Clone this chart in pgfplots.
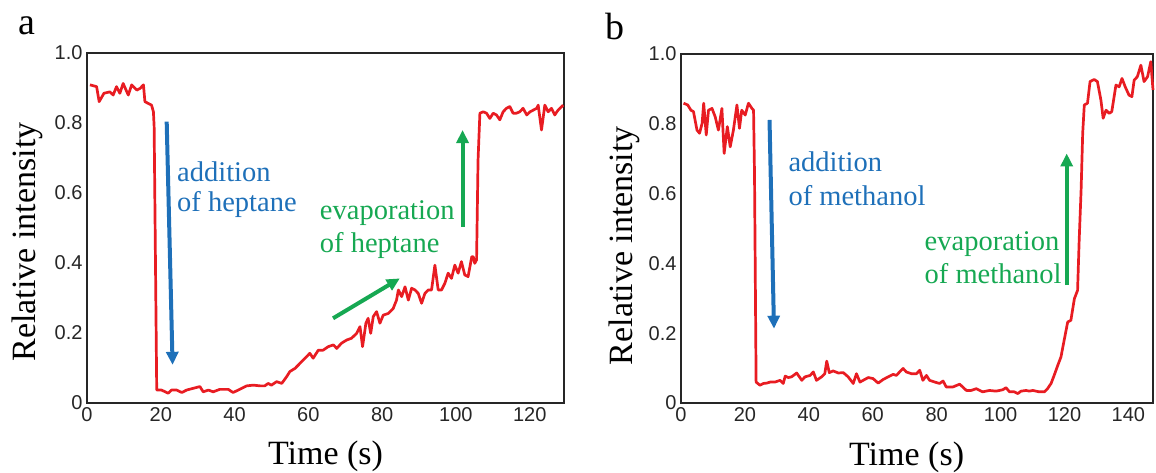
\documentclass[border=0pt]{standalone}
\usepackage{pgfplots}
\pgfplotsset{compat=1.18}
\usepackage{pgfplotstable}
\usetikzlibrary{arrows.meta}
\usepackage{fontspec}
\setmainfont{Liberation Serif}
\newfontfamily\arialfont{Liberation Sans}
\newcommand\tl{\arialfont\fontsize{20}{22}\selectfont}
\definecolor{cRed}{RGB}{232,28,34}
\definecolor{cBlue}{RGB}{30,112,185}
\definecolor{cGreen}{RGB}{22,168,82}

\pgfplotstableread{
t v
0.8 0.909
2.6 0.904
3.3 0.861
4.6 0.885
6.2 0.889
7.1 0.880
8.0 0.904
8.9 0.885
9.8 0.913
10.8 0.889
11.2 0.880
12.1 0.909
13.5 0.894
14.4 0.899
15.3 0.909
15.7 0.861
16.6 0.856
17.5 0.851
18.0 0.832
18.2 0.790
18.9 0.037
20.2 0.037
22.0 0.028
22.9 0.037
24.3 0.037
25.7 0.030
27.0 0.037
28.8 0.042
30.6 0.047
31.5 0.032
32.9 0.037
34.2 0.032
36.0 0.039
38.3 0.039
39.6 0.030
41.0 0.037
43.3 0.049
45.1 0.051
46.9 0.049
48.2 0.049
49.1 0.056
50.0 0.051
51.4 0.061
52.8 0.056
54.1 0.075
55.0 0.090
56.4 0.099
57.7 0.113
59.1 0.128
60.4 0.142
61.3 0.128
62.7 0.151
64.0 0.151
65.4 0.161
66.8 0.166
67.7 0.156
69.0 0.171
70.4 0.180
71.7 0.185
73.1 0.199
74.0 0.218
74.7 0.161
75.6 0.228
76.2 0.242
76.9 0.199
77.6 0.247
78.5 0.261
79.4 0.228
80.3 0.251
81.7 0.256
83.0 0.270
83.9 0.294
84.4 0.323
85.3 0.304
86.2 0.332
87.1 0.294
88.0 0.328
88.9 0.323
89.8 0.313
90.7 0.285
91.6 0.313
92.5 0.323
93.4 0.323
94.3 0.394
95.2 0.323
96.1 0.323
97.0 0.342
97.9 0.371
98.8 0.356
99.7 0.394
100.6 0.371
101.5 0.404
102.4 0.366
103.3 0.361
104.3 0.418
104.7 0.418
105.1 0.399
105.6 0.409
106.0 0.694
106.5 0.828
107.4 0.832
108.3 0.828
109.2 0.813
110.1 0.828
111.0 0.823
111.9 0.809
112.8 0.832
113.7 0.842
114.6 0.847
115.5 0.828
116.4 0.828
117.3 0.832
118.2 0.842
119.2 0.823
120.1 0.832
121.0 0.837
121.9 0.842
122.3 0.851
123.2 0.780
124.1 0.851
125.0 0.832
125.9 0.842
126.8 0.823
127.7 0.837
129.1 0.851
}\dataA

\pgfplotstableread{
t v
0.8 0.859
2.1 0.854
3.1 0.839
3.9 0.835
5.0 0.782
5.8 0.773
6.6 0.801
7.1 0.859
7.9 0.768
8.6 0.839
9.7 0.844
10.7 0.820
11.7 0.782
12.8 0.844
13.5 0.715
14.5 0.792
15.4 0.734
16.4 0.782
17.5 0.854
18.3 0.787
19.0 0.839
20.1 0.825
21.1 0.859
22.2 0.844
22.7 0.839
23.0 0.658
23.5 0.060
24.7 0.051
25.8 0.056
26.8 0.057
27.9 0.060
29.4 0.060
31.0 0.065
32.0 0.056
32.6 0.077
33.6 0.073
34.6 0.075
36.2 0.086
37.8 0.065
38.8 0.075
40.4 0.079
41.4 0.089
42.4 0.065
44.0 0.075
45.0 0.084
45.6 0.120
46.4 0.087
47.6 0.092
49.2 0.086
50.8 0.087
52.3 0.075
53.9 0.056
54.9 0.084
56.0 0.060
57.0 0.065
58.6 0.073
60.1 0.070
61.7 0.057
63.2 0.067
64.8 0.075
66.4 0.082
67.4 0.079
68.4 0.089
69.5 0.099
70.5 0.089
72.1 0.084
73.7 0.084
74.7 0.094
75.7 0.065
76.8 0.079
77.8 0.065
79.4 0.060
80.9 0.056
82.0 0.063
83.0 0.046
85.1 0.046
87.2 0.054
89.3 0.036
90.8 0.036
92.4 0.041
94.4 0.032
96.5 0.036
98.6 0.034
100.7 0.038
101.7 0.044
102.8 0.032
104.3 0.032
105.4 0.027
106.4 0.034
108.0 0.036
109.0 0.034
110.1 0.036
112.1 0.032
113.7 0.032
114.7 0.041
115.8 0.056
116.8 0.080
117.9 0.108
118.9 0.132
119.9 0.180
121.0 0.232
122.0 0.237
123.1 0.299
124.1 0.323
124.6 0.467
125.2 0.610
125.7 0.773
126.2 0.854
127.2 0.859
128.0 0.921
129.3 0.927
130.3 0.921
131.4 0.868
132.1 0.816
133.0 0.839
134.0 0.830
134.8 0.835
136.1 0.911
137.1 0.906
138.0 0.930
139.0 0.906
140.2 0.882
141.1 0.878
141.8 0.925
142.8 0.935
143.9 0.968
144.9 0.921
146.0 0.935
147.0 0.978
147.7 0.897
}\dataB

\pgfplotsset{
  myax/.style={
    scale only axis,
    axis line style={black!85, line width=1.3pt},
    major tick length=0pt,
    ymin=0, ymax=1,
    ytick={0,0.2,0.4,0.6,0.8,1},
    yticklabels={\tl 0,\tl 0.2,\tl 0.4,\tl 0.6,\tl 0.8,\tl 1.0},
    tick label style={text=black!85},
    yticklabel style={xshift=-1pt},
    xticklabel style={yshift=-1pt},
    label style={font=\fontsize{34}{36}\selectfont},
    clip=false,
  },
}
\tikzset{
  ann/.style={font=\fontsize{28.5}{30}\selectfont, anchor=base west, inner sep=0pt},
  arr/.style={line width=4pt, -{Triangle[width=12pt,length=13pt]}},
}

\begin{document}
\begin{tikzpicture}
\path[use as bounding box] (0,0) rectangle (1156pt,-472pt);
\node[anchor=base west, inner sep=0pt, font=\fontsize{38}{40}\selectfont] at (18pt,-34pt) {a};
\node[anchor=base west, inner sep=0pt, font=\fontsize{38}{40}\selectfont] at (605pt,-39pt) {b};

\begin{axis}[myax,
  at={(87pt,-403pt)}, anchor=south west,
  width=477pt, height=350pt,
  xmin=0, xmax=129.3,
  xtick={0,20,40,60,80,100,120},
  xticklabels={\tl 0,\tl 20,\tl 40,\tl 60,\tl 80,\tl 100,\tl 120},
  xlabel={Time (s)}, ylabel={Relative intensity},
  xlabel style={at={(axis description cs:0.5,0)}, anchor=base, yshift=-61pt},
  ylabel style={at={(axis description cs:-0.109,0.46)}, anchor=base},
]
\addplot[cRed, line width=2.7pt, line join=round] table[x=t,y=v] {\dataA};
\draw[arr, cBlue] (axis cs:21.6,0.804) -- (axis cs:23.2,0.109);
\node[ann, text=cBlue] at (axis cs:24.4,0.634) {addition};
\node[ann, text=cBlue] at (axis cs:24.4,0.546) {of heptane};
\draw[arr, cGreen] (axis cs:66.7,0.242) -- (axis cs:84.8,0.356);
\draw[arr, cGreen] (axis cs:101.8,0.504) -- (axis cs:101.8,0.780);
\node[ann, text=cGreen] at (axis cs:63.1,0.523) {evaporation};
\node[ann, text=cGreen] at (axis cs:63.1,0.429) {of heptane};
\end{axis}

\begin{axis}[myax,
  at={(681pt,-403pt)}, anchor=south west,
  width=472pt, height=349pt,
  xmin=0, xmax=147.7,
  xtick={0,20,40,60,80,100,120,140},
  xticklabels={\tl 0,\tl 20,\tl 40,\tl 60,\tl 80,\tl 100,\tl 120,\tl 140},
  xlabel={Time (s)}, ylabel={Relative intensity},
  xlabel style={at={(axis description cs:0.478,0)}, anchor=base, yshift=-62pt},
  ylabel style={at={(axis description cs:-0.103,0.451)}, anchor=base},
]
\addplot[cRed, line width=2.7pt, line join=round] table[x=t,y=v] {\dataB};
\draw[arr, cBlue] (axis cs:27.7,0.811) -- (axis cs:29.1,0.213);
\node[ann, text=cBlue] at (axis cs:33.6,0.662) {addition};
\node[ann, text=cBlue] at (axis cs:33.6,0.567) {of methanol};
\draw[arr, cGreen] (axis cs:120.7,0.338) -- (axis cs:120.7,0.715);
\node[ann, text=cGreen] at (axis cs:76.2,0.438) {evaporation};
\node[ann, text=cGreen] at (axis cs:76.2,0.342) {of methanol};
\end{axis}
\end{tikzpicture}
\end{document}
